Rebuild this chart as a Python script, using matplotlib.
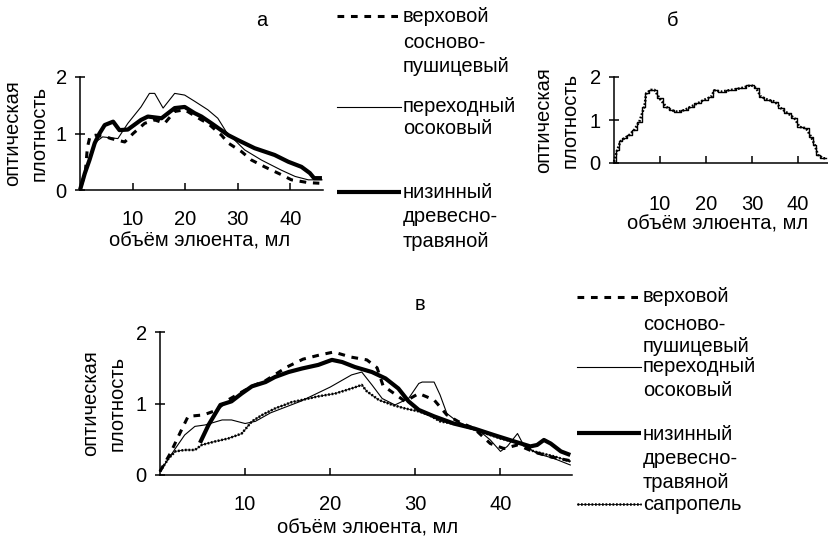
import matplotlib
matplotlib.use("Agg")
import matplotlib.pyplot as plt
from matplotlib import font_manager
from matplotlib.lines import Line2D

# curves, x = eluent volume (ml), y = optical density
# panel a
a_x_dash = [0.3, 1.0, 1.4, 1.9, 3.0, 5.0, 5.9, 8.5, 10.1, 12.3, 14.2, 16.1, 18.0, 19.9, 23.1,
            24.3, 26.9, 28.2, 30.7, 32.6, 35.1, 38.3, 40.2, 43.4, 45.5]
a_y_dash = [0.1, 0.3, 0.75, 0.95, 0.97, 0.94, 0.91, 0.85, 1.0, 1.18, 1.24, 1.18, 1.39, 1.42, 1.24,
            1.18, 0.97, 0.83, 0.68, 0.53, 0.41, 0.27, 0.18, 0.13, 0.12]
a_x_thin = [0, 1.0, 2.0, 3.0, 4.3, 7.2, 9.1, 11.6, 13.2, 14.2, 15.8, 18.0, 19.9, 21.8, 24.3, 26.2,
            27.8, 31.3, 34.5, 38.3, 40.9, 43.4, 46.0]
a_y_thin = [0, 0.3, 0.62, 0.85, 0.94, 0.91, 1.18, 1.47, 1.71, 1.71, 1.45, 1.71, 1.68, 1.57, 1.42, 1.27,
            1.03, 0.71, 0.53, 0.35, 0.24, 0.18, 0.18]
a_x_thick = [0, 0.9, 1.8, 2.8, 3.7, 4.7, 6.3, 7.5, 9.1, 11.6, 12.9, 15.5, 18.0, 19.9, 21.8, 23.1,
             25.0, 28.2, 30.1, 33.2, 37.0, 39.6, 42.1, 43.7, 44.5, 46.0]
a_y_thick = [0, 0.29, 0.53, 0.83, 1.0, 1.15, 1.21, 1.06, 1.07, 1.24, 1.30, 1.27, 1.45, 1.47, 1.36, 1.30,
             1.18, 0.97, 0.88, 0.74, 0.62, 0.50, 0.41, 0.30, 0.21, 0.21]

# panel b
b_x = [0, 0.7, 1.4, 2.2, 3.3, 4.4, 5.5, 6.6, 7.0, 8.0, 8.8, 9.9, 11.3, 12.4, 13.8, 15.3, 16.7, 18.2,
       19.6, 21.1, 21.8, 23.3, 25.4, 27.6, 29.8, 30.9, 31.9, 33.4, 34.9, 36.3, 37.7, 39.2, 40.3, 41.7,
       42.8, 43.6, 44.3, 45.4, 46.1]
b_y = [0.03, 0.30, 0.50, 0.57, 0.65, 0.77, 0.96, 1.31, 1.62, 1.70, 1.70, 1.50, 1.31, 1.23, 1.19, 1.23,
       1.31, 1.39, 1.47, 1.54, 1.69, 1.66, 1.70, 1.74, 1.81, 1.74, 1.54, 1.47, 1.43, 1.27, 1.16, 1.04,
       0.84, 0.81, 0.61, 0.42, 0.19, 0.11, 0.11]

# panel c
c_x_dash = [0, 1.2, 2.4, 3.3, 5.1, 6.5, 8.0, 9.6, 10.8, 12.4, 14.9, 16.8, 18.8, 20.4, 22.4, 24.3, 25.5,
            26.2, 28.8, 30.4, 32.2, 33.7, 35.0, 36.9, 38.8, 40.4, 42.0, 44.0, 46.0, 48.2]
c_y_dash = [0.05, 0.3, 0.6, 0.82, 0.84, 0.9, 1.05, 1.16, 1.24, 1.32, 1.51, 1.62, 1.68, 1.72, 1.65, 1.61, 1.50,
            1.25, 1.03, 1.14, 1.05, 0.84, 0.75, 0.65, 0.44, 0.37, 0.42, 0.32, 0.25, 0.20]
c_x_thin = [0, 1.8, 2.9, 4.1, 5.3, 7.3, 8.4, 10.0, 11.2, 13.0, 16.5, 20.0, 22.5, 23.7, 24.9, 26.1, 27.6,
            29.2, 30.4, 30.8, 32.2, 32.9, 33.7, 34.9, 37.6, 38.8, 40.0, 40.8, 42.0, 42.7, 44.3, 46.3, 48.2]
c_y_thin = [0.05, 0.37, 0.56, 0.68, 0.70, 0.77, 0.77, 0.72, 0.75, 0.87, 1.03, 1.23, 1.40, 1.44, 1.26, 1.07, 0.98,
            1.07, 1.28, 1.30, 1.30, 1.12, 0.86, 0.75, 0.61, 0.49, 0.33, 0.40, 0.58, 0.42, 0.30, 0.23, 0.14]
c_x_thick = [4.7, 5.7, 6.5, 7.1, 8.4, 9.6, 10.8, 12.4, 13.5, 15.1, 16.7, 18.6, 20.2, 21.4, 22.9, 24.9,
             26.5, 28.0, 29.2, 30.4, 32.2, 34.5, 36.9, 39.2, 41.6, 43.5, 44.3, 45.1, 45.9, 47.1, 48.2]
c_y_thick = [0.45, 0.70, 0.86, 0.98, 1.03, 1.14, 1.24, 1.30, 1.37, 1.44, 1.49, 1.54, 1.61, 1.58, 1.51, 1.44,
             1.35, 1.21, 1.03, 0.91, 0.82, 0.72, 0.65, 0.56, 0.47, 0.40, 0.42, 0.49, 0.44, 0.33, 0.28]
c_x_sapr = [0, 1.0, 1.8, 2.9, 4.1, 4.9, 6.5, 8.0, 9.6, 10.8, 12.0, 13.5, 15.5, 16.7, 18.6, 20.6, 22.5,
            23.7, 24.3, 25.7, 27.3, 28.8, 30.4, 31.6, 32.9, 35.3, 37.6, 40.0, 42.4, 43.9, 46.3, 48.2]
c_y_sapr = [0.05, 0.23, 0.33, 0.35, 0.35, 0.42, 0.47, 0.51, 0.58, 0.75, 0.84, 0.93, 1.02, 1.05, 1.10, 1.14, 1.21,
            1.26, 1.17, 1.05, 0.98, 0.93, 0.89, 0.84, 0.75, 0.70, 0.61, 0.51, 0.44, 0.33, 0.26, 0.19]

x_ticks = [10, 20, 30, 40]
y_ticks = [0, 1, 2]
x_label = "объём элюента, мл"
y_label = "оптическая\nплотность"
legend_a = [["верховой", "сосново-", "пушицевый"], ["переходный", "осоковый"],
            ["низинный", "древесно-", "травяной"]]
legend_c = legend_a + [["сапропель"]]

W, H = 829, 538

names = {f.name for f in font_manager.fontManager.ttflist}
if "Liberation Sans Narrow" in names:
    FONT, FS = "Liberation Sans Narrow", 17
else:
    FONT, FS = "Liberation Sans", 14.5
plt.rcParams["font.family"] = FONT
plt.rcParams["font.size"] = FS


def fx(px):
    return px / W


def fy(py):
    return 1 - py / H


DASH = dict(color="black", lw=2.2, ls=(0, (2.2, 2.2)))
THIN = dict(color="black", lw=0.8)
THICK = dict(color="black", lw=3.0, solid_capstyle="butt")
SAPR = dict(color="black", lw=1.8, ls=(0, (0.7, 0.7)))

fig = plt.figure(figsize=(W / 100, H / 100), dpi=100)


def make_axes(left, right, bottom, top, xmax, tick_pad):
    ax = fig.add_axes([fx(left), fy(bottom), fx(right - left), (bottom - top) / H])
    ax.set_xlim(0, xmax)
    ax.set_ylim(0, 2)
    for s in ("top", "right"):
        ax.spines[s].set_visible(False)
    for s in ("left", "bottom"):
        ax.spines[s].set_linewidth(1.1)
    ax.set_xticks(x_ticks)
    ax.set_yticks(y_ticks)
    ax.tick_params(axis="x", direction="in", length=5, width=1.1, pad=tick_pad)
    ax.tick_params(axis="y", direction="inout", length=7, width=1.1, pad=6)
    return ax


def sapr_plot(ax, x, y):
    ax.plot(x, y, color="black", lw=0.6, clip_on=False)
    ax.plot(x, y, clip_on=False, **SAPR)


# panel а
ax_a = make_axes(80, 323, 190, 77, 46.2, 14.5)
ax_a.plot(a_x_dash, a_y_dash, clip_on=False, **DASH)
ax_a.plot(a_x_thin, a_y_thin, clip_on=False, **THIN)
ax_a.plot(a_x_thick, a_y_thick, clip_on=False, **THICK)

# panel б
ax_b = make_axes(614, 829, 163, 77, 46.7, 23)
ax_b.plot(b_x, b_y, color="black", lw=1.0, drawstyle="steps-mid", clip_on=False)
ax_b.plot(b_x, b_y, clip_on=False, **SAPR)

# panel в
ax_c = make_axes(160, 572, 475, 332, 48.4, 14.5)
ax_c.plot(c_x_dash, c_y_dash, clip_on=False, **DASH)
ax_c.plot(c_x_thin, c_y_thin, clip_on=False, **THIN)
ax_c.plot(c_x_thick, c_y_thick, clip_on=False, **THICK)
sapr_plot(ax_c, c_x_sapr, c_y_sapr)

# titles, axis labels
for label, x, y in [("а", 262, 20), ("б", 673, 20), ("в", 420, 305)]:
    fig.text(fx(x), fy(y), label, ha="center", va="center")
for x, y in [(200, 241), (718, 224), (368, 528)]:
    fig.text(fx(x), fy(y), x_label, ha="center", va="center")
for x, y in [(26, 133), (557, 120), (104, 403)]:
    fig.text(fx(x), fy(y), y_label, ha="center", va="center", rotation=90,
             multialignment="center", linespacing=1.45)

# hand-drawn legends
def legend(x0, x1, tx, groups, line_y, text_y, styles):
    for ly, st in zip(line_y, styles):
        if st is SAPR:
            fig.add_artist(Line2D([fx(x0), fx(x1)], [fy(ly), fy(ly)], color="black", lw=0.6))
        fig.add_artist(Line2D([fx(x0), fx(x1)], [fy(ly), fy(ly)], **st))
    for lines, ys in zip(groups, text_y):
        for t, y in zip(lines, ys):
            fig.text(fx(tx), fy(y), t, ha="left", va="center")


legend(337, 401, 403, legend_a, [16, 107, 192],
       [[16, 42, 66], [106, 129], [192, 216, 241]], [DASH, THIN, THICK])
legend(577, 641, 643, legend_c, [297, 367, 433, 504],
       [[297, 324, 346], [366, 391], [434, 459, 483], [504]], [DASH, THIN, THICK, SAPR])

fig.savefig("out.png", dpi=100)
